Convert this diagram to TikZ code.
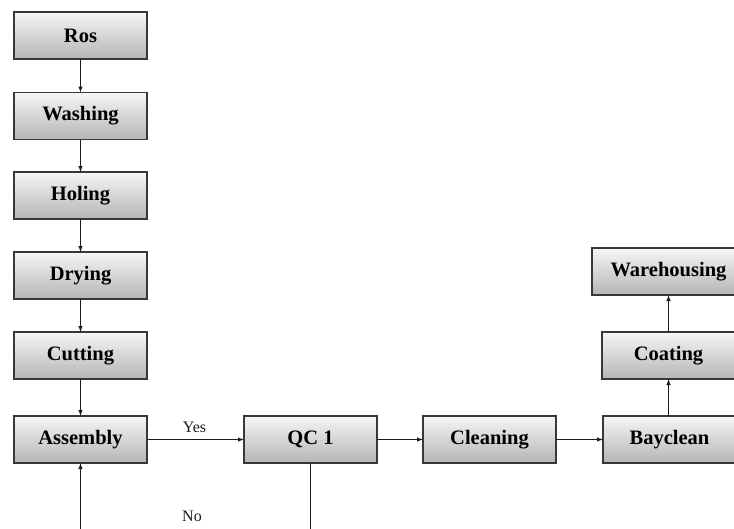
\documentclass[tikz,border=0pt]{standalone}
\usepackage{fontspec}
\setmainfont{Liberation Serif}
\usetikzlibrary{arrows.meta,shadings}
\definecolor{boxtop}{HTML}{F6F6F6}
\definecolor{boxbot}{HTML}{B5B5B5}
\definecolor{boxline}{HTML}{383838}
\definecolor{conline}{HTML}{1A1A1A}
\tikzset{
  stepbox/.style={draw=boxline, line width=1.4pt, top color=boxtop, bottom color=boxbot,
    shading=axis, minimum width=133pt, minimum height=47pt, inner sep=0pt, outer sep=0pt,
    font=\fontsize{20.5}{24}\selectfont\bfseries, text=black},
  conn/.style={draw=conline, line width=1pt, -{Latex[length=6pt,width=4.5pt]}},
  plain/.style={draw=conline, line width=1pt},
  lbl/.style={font=\fontsize{16}{19}\selectfont, text=black!90, inner sep=0pt}
}
\begin{document}
\begin{tikzpicture}[x=1pt,y=-1pt]
\useasboundingbox (0,0) rectangle (734,528);
\node[stepbox] (ros) at (80.5,35.5) {Ros};
\node[stepbox] (wash) at (80.5,116) {Washing};
\node[stepbox] (hole) at (80.5,195.5) {Holing};
\node[stepbox] (dry) at (80.5,275.5) {Drying};
\node[stepbox] (cut) at (80.5,355.5) {Cutting};
\node[stepbox] (asm) at (80.5,439.5) {Assembly};
\node[stepbox] (qc) at (310.5,439.5) {QC 1};
\node[stepbox] (clean) at (489.5,439.5) {Cleaning};
\node[stepbox] (bay) at (669.5,439.5) {Bayclean};
\node[stepbox] (coat) at (668.5,355.5) {Coating};
\node[stepbox, minimum width=153pt] (ware) at (668.5,271.5) {Warehousing};
\coordinate (asmb) at (80.5,530);
\coordinate (qcb) at (310.5,530);
\node[lbl] (yes) at (194.5,427) {Yes};
\node[lbl] (no) at (192,516) {No};
\draw[conn] (ros) -- (wash);
\draw[conn] (wash) -- (hole);
\draw[conn] (hole) -- (dry);
\draw[conn] (dry) -- (cut);
\draw[conn] (cut) -- (asm);
\draw[conn] (asm) -- (qc);
\draw[conn] (qc) -- (clean);
\draw[conn] (clean) -- (bay);
\draw[conn] (bay.north -| coat.south) -- (coat.south);
\draw[conn] (coat) -- (ware);
\draw[conn] (asmb) -- (asm.south);
\draw[plain] (qc.south) -- (qcb);
\end{tikzpicture}
\end{document}
